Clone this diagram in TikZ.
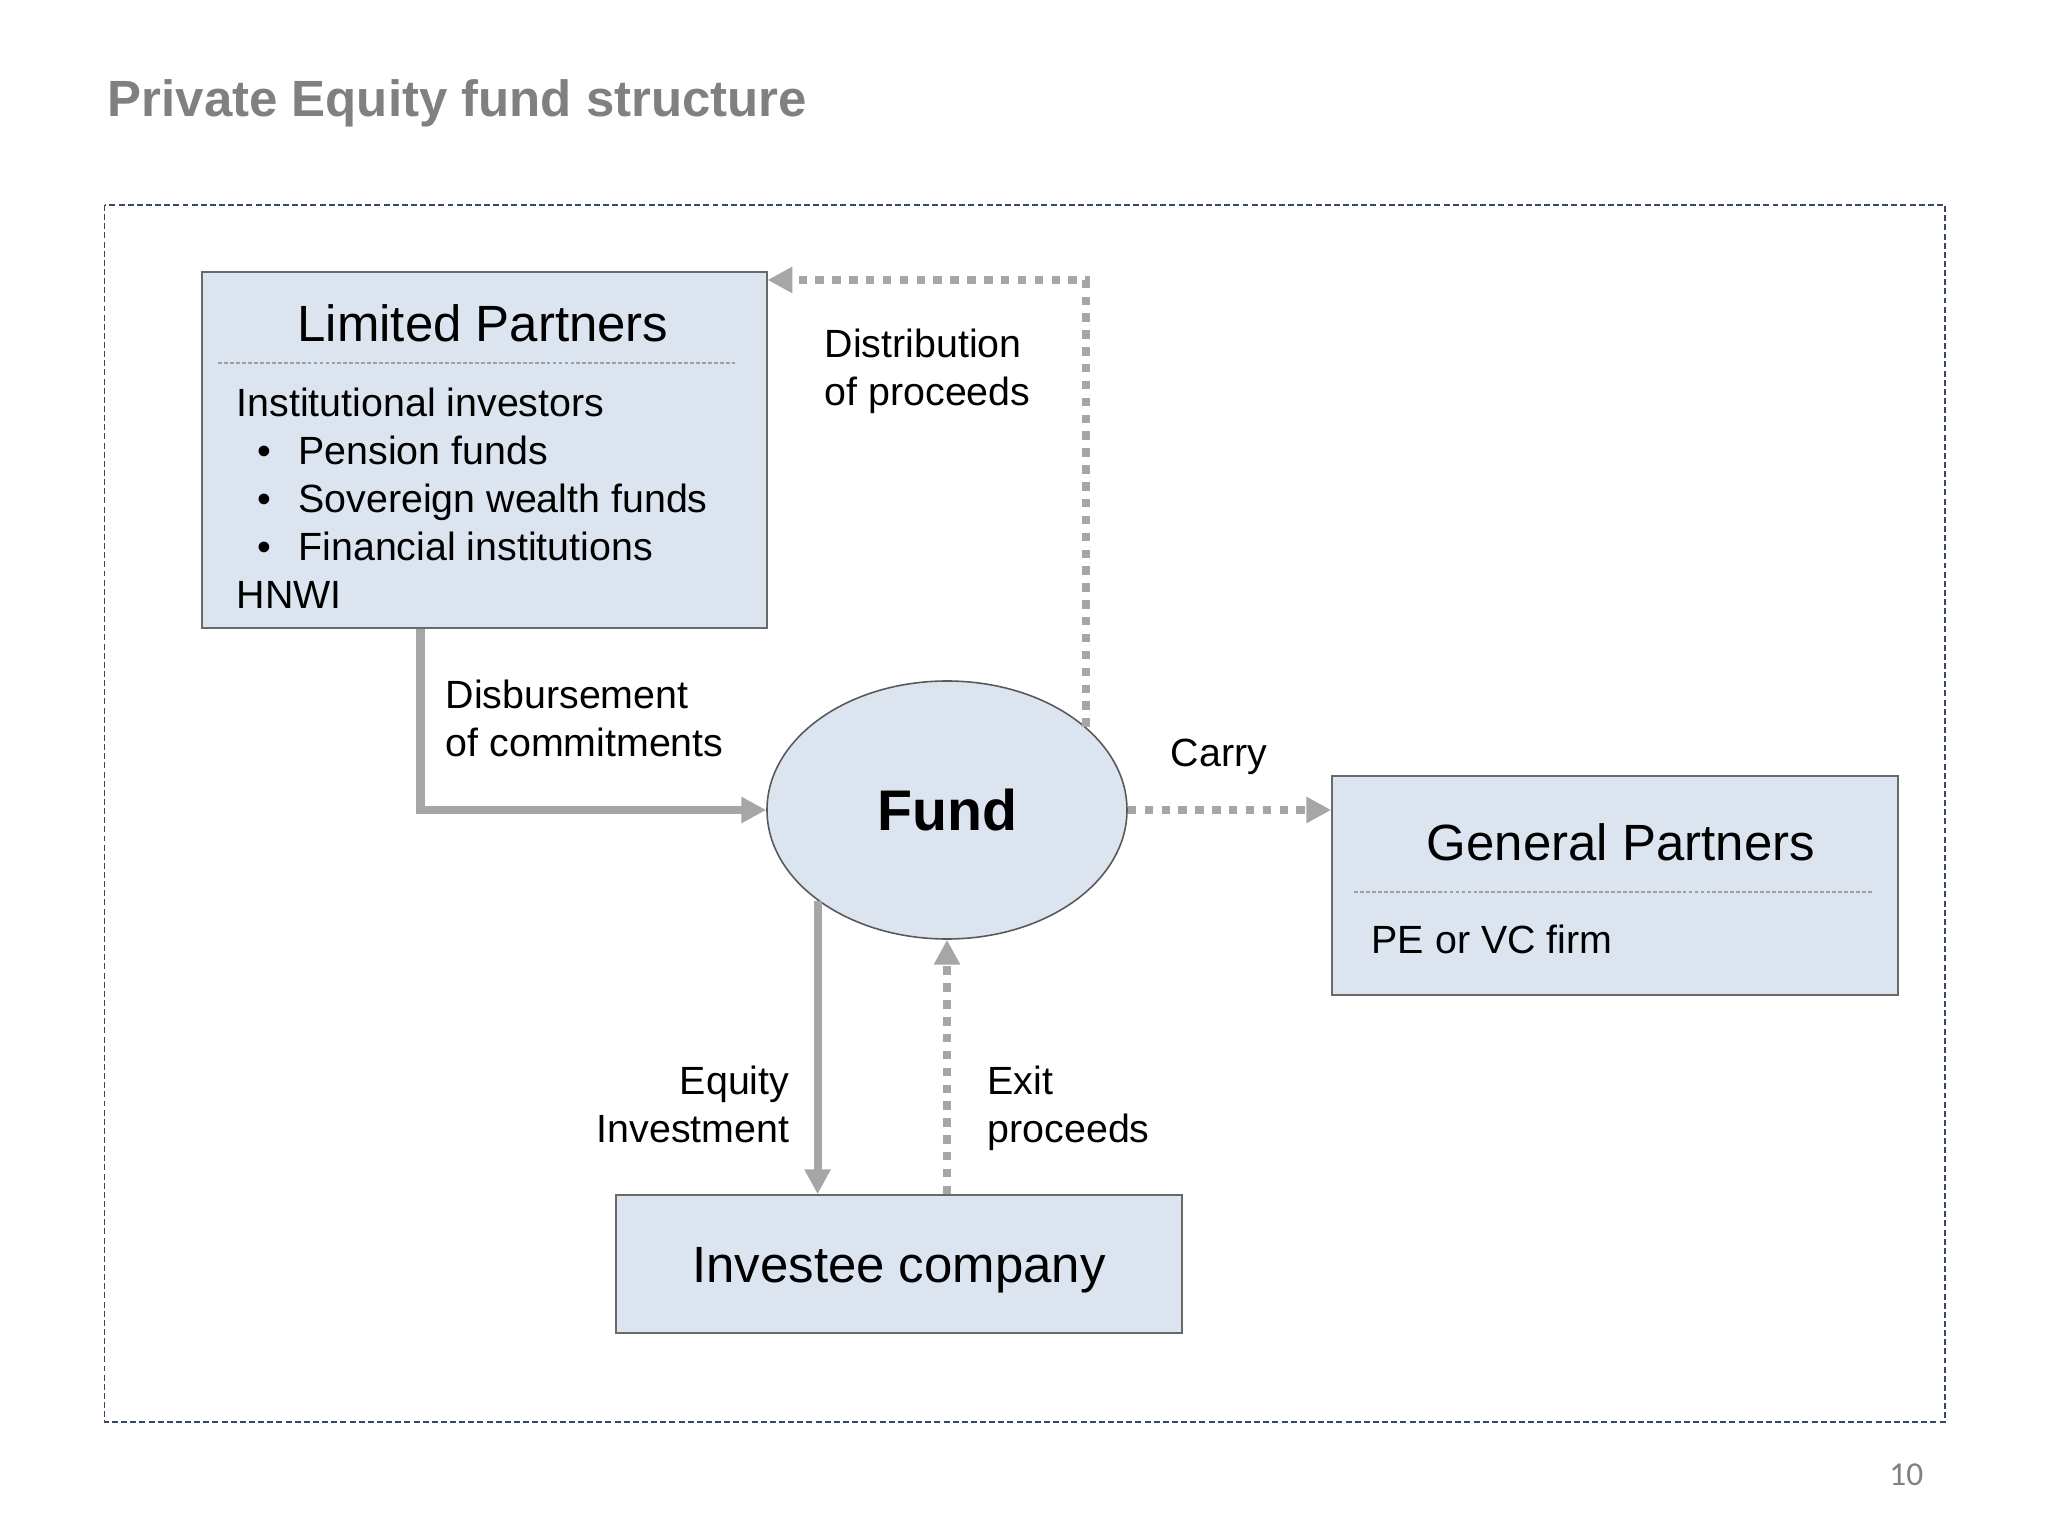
\documentclass[tikz,border=0pt]{standalone}
\usepackage{fontspec}
\setmainfont{Liberation Sans}
\newfontfamily\pagefont{Carlito}
\usepackage{xcolor}
\usetikzlibrary{
    arrows.meta,
    shapes.geometric
}
\definecolor{boxfill}{RGB}{220,228,240}
\definecolor{boxline}{RGB}{105,105,105}
\definecolor{flowgray}{RGB}{166,166,166}
\definecolor{framenavy}{RGB}{55,72,105}
\definecolor{titlegray}{RGB}{128,128,128}
\tikzset{
    partybox/.style={draw=boxline, line width=0.45pt, fill=boxfill, rectangle, inner sep=0pt},
    flow/.style={draw=flowgray, line width=2.3pt, -{Triangle[length=7.1pt, width=7.1pt]}},
    dotflow/.style={flow, dash pattern=on 2.4pt off 2.4pt},
    bigtxt/.style={font=\fontsize{14.5}{17}\selectfont, inner sep=0pt},
    txt/.style={font=\fontsize{11.2}{13.7}\selectfont, inner sep=0pt},
    sepline/.style={draw=gray!75, line width=0.4pt, dash pattern=on 1.1pt off 0.6pt}
}

\begin{document}
\begin{tikzpicture}
            \useasboundingbox[fill=white] (0,0) rectangle (20.48,-15.36);
            
            \node[anchor=base west, inner sep=0pt, text=titlegray, font=\fontsize{14.5}{17}\selectfont\bfseries] (title) at (1.07,-1.17) {Private Equity fund structure};
            \draw[framenavy, line width=0.5pt, dash pattern=on 1.7pt off 0.9pt] (1.045,-2.05) rectangle (19.45,-14.22);
            
            % parties
            \node[partybox, minimum width=5.645cm, minimum height=3.565cm] (lp) at (4.845,-4.50) {};
            \node[bigtxt, anchor=base] (lptitle) at (4.83,-3.42) {Limited Partners};
            \draw[sepline] (2.18,-3.63) -- (7.35,-3.63);
            \node[txt, anchor=north west, align=left] (lplist) at (2.36,-3.87) {Institutional investors\\
                \hspace*{0.21cm}\textbullet\hspace{0.27cm}Pension funds\\
                \hspace*{0.21cm}\textbullet\hspace{0.27cm}Sovereign wealth funds\\
                \hspace*{0.21cm}\textbullet\hspace{0.27cm}Financial institutions\\
                HNWI};
            
            \node[partybox, minimum width=5.66cm, minimum height=2.19cm] (gp) at (16.15,-8.855) {};
            \node[bigtxt, anchor=base] (gptitle) at (16.21,-8.60) {General Partners};
            \draw[sepline] (13.54,-8.92) -- (18.72,-8.92);
            \node[txt, anchor=base west] (gpfirm) at (13.71,-9.54) {PE or VC firm};
            
            \node[partybox, ellipse, draw=black!65, minimum width=3.6cm, minimum height=2.58cm, font=\fontsize{16.3}{19}\selectfont\bfseries] (fund) at (9.47,-8.10) {Fund};
            
            \node[partybox, bigtxt, text height=0.36cm, text depth=0pt, minimum width=5.66cm, minimum height=1.38cm] (inv) at (8.99,-12.64) {Investee company};
            
            % flows
            \coordinate (lpout) at ([xshift=2.19cm]lp.south west);
            \coordinate (lpin) at ([yshift=-0.09cm]lp.north east);
            \draw[flow] (lpout) |- (fund.west);
            \draw[dotflow] (fund.31.5) |- (lpin);
            \draw[dotflow] (fund.east) -- (fund.east -| gp.west);
            \draw[flow] (fund.215.6) -- (fund.215.6 |- inv.north);
            \draw[dotflow] (fund.south |- inv.north) -- (fund.south);
            
            \node[txt, anchor=north west, align=left] (distlbl) at (8.24,-3.28) {Distribution\\of proceeds};
            \node[txt, anchor=north west, align=left] (disblbl) at (4.45,-6.79) {Disbursement\\of commitments};
            \node[txt, anchor=base west] (carrylbl) at (11.70,-7.67) {Carry};
            \node[txt, anchor=north east, align=right] (eqlbl) at (7.90,-10.65) {Equity\\Investment};
            \node[txt, anchor=north west, align=left] (exitlbl) at (9.87,-10.65) {Exit\\proceeds};
            
            \node[anchor=base east, inner sep=0pt, text=gray, font=\pagefont\fontsize{9.5}{11}\selectfont] (pageno) at (19.24,-14.85) {10};
\end{tikzpicture}
\end{document}
